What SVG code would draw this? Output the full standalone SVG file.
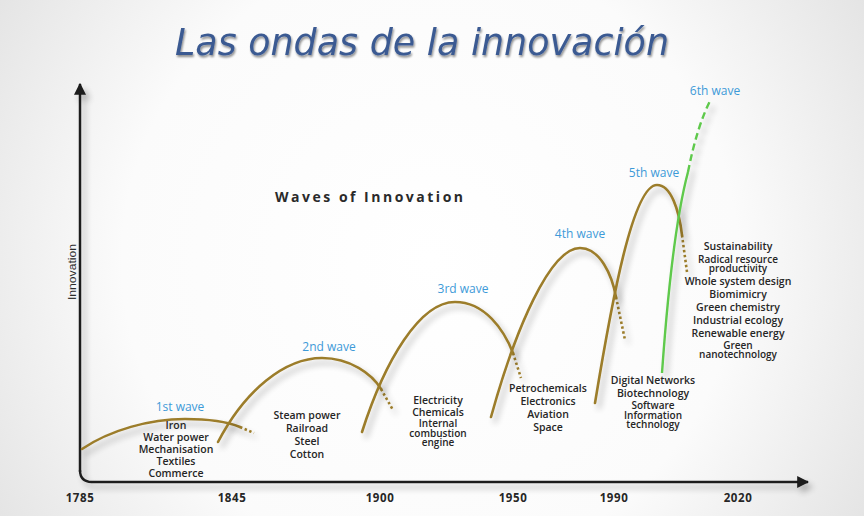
<svg xmlns="http://www.w3.org/2000/svg" width="864" height="516" viewBox="0 0 864 516">
  <defs>
    <radialGradient id="bg" cx="430" cy="260" r="560" gradientUnits="userSpaceOnUse">
      <stop offset="0" stop-color="#ffffff"/>
      <stop offset="0.55" stop-color="#fbfbfb"/>
      <stop offset="1" stop-color="#dedede"/>
    </radialGradient>
    <filter id="shadow" filterUnits="userSpaceOnUse" x="0" y="0" width="864" height="516">
      <feGaussianBlur in="SourceAlpha" stdDeviation="3"/>
      <feOffset dx="4" dy="5" result="b"/>
      <feComponentTransfer><feFuncA type="linear" slope="0.3"/></feComponentTransfer>
      <feMerge><feMergeNode/><feMergeNode in="SourceGraphic"/></feMerge>
    </filter>
    <filter id="tshadow" x="-5%" y="-20%" width="110%" height="150%">
      <feGaussianBlur in="SourceAlpha" stdDeviation="1.2"/>
      <feOffset dx="1" dy="1.5"/>
      <feComponentTransfer><feFuncA type="linear" slope="0.45"/></feComponentTransfer>
      <feMerge><feMergeNode/><feMergeNode in="SourceGraphic"/></feMerge>
    </filter>
    <marker id="arrow" viewBox="0 0 10 10" refX="9" refY="5" markerWidth="5" markerHeight="5" orient="auto" markerUnits="strokeWidth">
      <path d="M0,0 L10,5 L0,10 z" fill="#1a1a1a"/>
    </marker>
  </defs>
  <style>
    .wave { fill: none; stroke: #9c7d2c; stroke-width: 2.6; stroke-linecap: round; }
    .dash { fill: none; stroke: #9c7d2c; stroke-width: 2.6; stroke-dasharray: 2.5 2.5; }
    .green { fill: none; stroke: #5ec94c; stroke-width: 2.4; }
    .gdash { fill: none; stroke: #5ec94c; stroke-width: 2.4; stroke-dasharray: 7 4; }
    .lbl { font-family: "Open Sans", "Liberation Sans", sans-serif; font-size: 12px; fill: #3d9ad8; text-anchor: middle; }
    .lst { font-family: "Open Sans", "Liberation Sans", sans-serif; font-size: 10.5px; font-weight: 600; fill: #262626; text-anchor: middle; }
    .sm { font-size: 10px; }
    .yr { font-family: "Open Sans", "Liberation Sans", sans-serif; font-size: 11.5px; font-weight: 700; fill: #262626; text-anchor: middle; letter-spacing: 0.6px; }
    .axis { fill: none; stroke: #1a1a1a; stroke-width: 2.4; }
  </style>
  <rect width="864" height="516" fill="url(#bg)"/>

  <text x="422" y="55" font-family="'DejaVu Sans', 'Liberation Sans', sans-serif" font-style="oblique" font-size="38" fill="#3b5a92" text-anchor="middle" textLength="494" lengthAdjust="spacingAndGlyphs" filter="url(#tshadow)">Las ondas de la innovación</text>

  <g id="connectors" filter="url(#shadow)">
    <path class="axis" d="M80,472 L80,84" marker-end="url(#arrow)"/>
    <path class="axis" d="M80,470 Q80,482 92,482 L808,482" marker-end="url(#arrow)"/>
  </g>

  <text x="76" y="272" font-family="'Liberation Sans Narrow', 'Liberation Sans', sans-serif" font-size="11" fill="#2a2a2a" text-anchor="middle" textLength="56" lengthAdjust="spacingAndGlyphs" transform="rotate(-90 76 272)">Innovation</text>
  <text x="275" y="202" font-family="'Open Sans', 'Liberation Sans', sans-serif" font-size="14" font-weight="700" fill="#2a2a2a" textLength="188" lengthAdjust="spacing">Waves of Innovation</text>

  <g id="years">
    <text class="yr" x="80" y="502">1785</text>
    <text class="yr" x="232" y="502">1845</text>
    <text class="yr" x="380" y="502">1900</text>
    <text class="yr" x="513" y="502">1950</text>
    <text class="yr" x="614" y="502">1990</text>
    <text class="yr" x="738" y="502">2020</text>
  </g>

  <g id="wave1">
    <g filter="url(#shadow)">
      <path class="wave" d="M82,449 C110,430 150,419 185,419 C210,419 228,422 240,427"/>
      <path class="dash" d="M240,427 L254,433"/>
    </g>
    <text class="lbl" x="180" y="411">1st wave</text>
    <text class="lst" x="176" y="429">Iron</text>
    <text class="lst" x="176" y="441">Water power</text>
    <text class="lst" x="176" y="453">Mechanisation</text>
    <text class="lst" x="176" y="465">Textiles</text>
    <text class="lst" x="176" y="477">Commerce</text>
  </g>

  <g id="wave2">
    <g filter="url(#shadow)">
      <path class="wave" d="M218,442 C245,390 285,358 322,358 C350,358 372,374 381,389"/>
      <path class="dash" d="M381,389 L393,410"/>
    </g>
    <text class="lbl" x="329" y="351">2nd wave</text>
    <text class="lst" x="307" y="419">Steam power</text>
    <text class="lst" x="307" y="432">Railroad</text>
    <text class="lst" x="307" y="445">Steel</text>
    <text class="lst" x="307" y="458">Cotton</text>
  </g>

  <g id="wave3">
    <g filter="url(#shadow)">
      <path class="wave" d="M362,432 C385,360 420,302 455,302 C485,302 504,330 513,353"/>
      <path class="dash" d="M513,353 L521,378"/>
    </g>
    <text class="lbl" x="463" y="293">3rd wave</text>
    <text class="lst" x="438" y="404">Electricity</text>
    <text class="lst" x="438" y="416">Chemicals</text>
    <text class="lst sm" x="438" y="427">Internal</text>
    <text class="lst sm" x="438" y="436.5">combustion</text>
    <text class="lst sm" x="438" y="446">engine</text>
  </g>

  <g id="wave4">
    <g filter="url(#shadow)">
      <path class="wave" d="M491,417 C515,330 550,248 580,248 C600,248 612,275 616,297"/>
      <path class="dash" d="M616,297 L625,340"/>
    </g>
    <text class="lbl" x="580" y="238">4th wave</text>
    <text class="lst" x="548" y="392">Petrochemicals</text>
    <text class="lst" x="548" y="405">Electronics</text>
    <text class="lst" x="548" y="418">Aviation</text>
    <text class="lst" x="548" y="431">Space</text>
  </g>

  <g id="wave5">
    <g filter="url(#shadow)">
      <path class="wave" d="M595,403 C612,300 633,185 657,185 C671,185 679,210 682,235"/>
      <path class="dash" d="M682,235 L687,272"/>
    </g>
    <text class="lbl" x="654" y="177">5th wave</text>
    <text class="lst" x="653" y="384">Digital Networks</text>
    <text class="lst" x="653" y="397">Biotechnology</text>
    <text class="lst sm" x="653" y="409">Software</text>
    <text class="lst sm" x="653" y="418.5">Information</text>
    <text class="lst sm" x="653" y="428">technology</text>
  </g>

  <g id="wave6">
    <g filter="url(#shadow)">
      <path class="green" d="M662,373 Q672,232 688,172"/>
      <path class="gdash" d="M688,172 Q697,126 711,99"/>
    </g>
    <text class="lbl" x="715" y="95">6th wave</text>
    <text class="lst" x="738" y="250">Sustainability</text>
    <text class="lst sm" x="738" y="262.5">Radical resource</text>
    <text class="lst sm" x="738" y="272">productivity</text>
    <text class="lst" x="738" y="285">Whole system design</text>
    <text class="lst" x="738" y="298">Biomimicry</text>
    <text class="lst" x="738" y="311">Green chemistry</text>
    <text class="lst" x="738" y="324">Industrial ecology</text>
    <text class="lst" x="738" y="337">Renewable energy</text>
    <text class="lst sm" x="738" y="348.5">Green</text>
    <text class="lst sm" x="738" y="358">nanotechnology</text>
  </g>
</svg>
